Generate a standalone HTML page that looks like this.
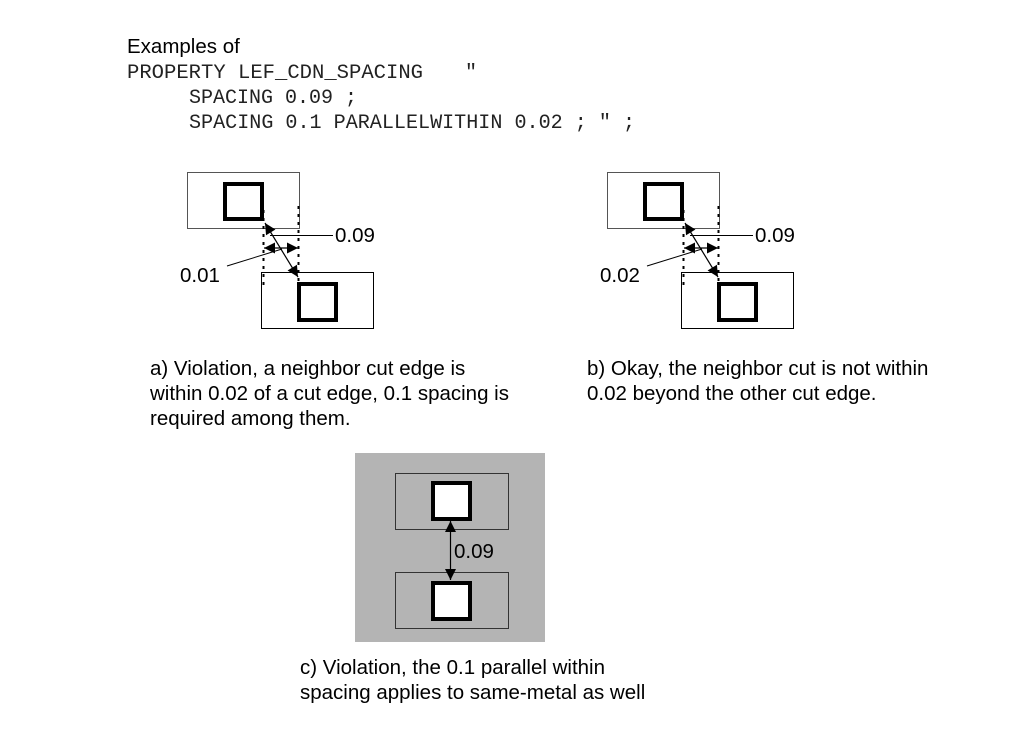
<!DOCTYPE html>
<html><head><meta charset="utf-8"><style>
html,body{margin:0;padding:0;background:#fff;}
svg{display:block;}
.s{font-family:"Liberation Sans",sans-serif;font-size:20.5px;fill:#000;}
.m{font-family:"Liberation Mono",monospace;font-size:20px;fill:#222;}
</style></head><body>
<svg width="1013" height="743" viewBox="0 0 1013 743" xmlns="http://www.w3.org/2000/svg">
<defs>
<marker id="ah" viewBox="0 0 10 10" refX="10" refY="5" markerWidth="12" markerHeight="11" markerUnits="userSpaceOnUse" orient="auto-start-reverse"><path d="M0,0L10,5L0,10z" fill="#000"/></marker>
<g id="diag">
<rect x="187.5" y="172.5" width="112" height="56" fill="none" stroke="#555" stroke-width="1"/>
<rect x="225" y="184" width="37" height="35" fill="none" stroke="#000" stroke-width="4"/>
<rect x="261.5" y="272.5" width="112" height="56" fill="none" stroke="#000" stroke-width="1"/>
<rect x="299" y="284" width="37" height="36" fill="none" stroke="#000" stroke-width="4"/>
<line x1="263.5" y1="210" x2="263.5" y2="288" stroke="#000" stroke-width="2" stroke-dasharray="3,5"/>
<line x1="298.5" y1="206" x2="298.5" y2="282" stroke="#000" stroke-width="2" stroke-dasharray="3,5"/>
<line x1="265" y1="223" x2="298" y2="277" stroke="#000" stroke-width="1.2" marker-start="url(#ah)" marker-end="url(#ah)"/>
<line x1="264" y1="248" x2="298" y2="248" stroke="#000" stroke-width="1.2" marker-start="url(#ah)" marker-end="url(#ah)"/>
<line x1="270" y1="235.5" x2="333" y2="235.5" stroke="#000" stroke-width="1"/>
<line x1="227" y1="266" x2="282" y2="249" stroke="#000" stroke-width="1"/>
</g>
</defs>
<text class="s" x="127" y="53">Examples of</text>
<text class="m" x="127" y="78" textLength="296" lengthAdjust="spacingAndGlyphs">PROPERTY LEF_CDN_SPACING</text>
<text class="m" x="465" y="78">"</text>
<text class="m" x="189" y="103">SPACING 0.09 ;</text>
<text class="m" x="189" y="128" textLength="446" lengthAdjust="spacingAndGlyphs">SPACING 0.1 PARALLELWITHIN 0.02 ; ″ ;</text>

<use href="#diag"/>
<text class="s" x="335" y="242">0.09</text>
<text class="s" x="180" y="282">0.01</text>
<use href="#diag" x="420"/>
<text class="s" x="755" y="242">0.09</text>
<text class="s" x="600" y="282">0.02</text>

<text class="s" x="150" y="375">a) Violation, a neighbor cut edge is</text>
<text class="s" x="150" y="400">within 0.02 of a cut edge, 0.1 spacing is</text>
<text class="s" x="150" y="425">required among them.</text>
<text class="s" x="587" y="375">b) Okay, the neighbor cut is not within</text>
<text class="s" x="587" y="400">0.02 beyond the other cut edge.</text>

<rect x="355" y="453" width="190" height="189" fill="#b4b4b4"/>
<rect x="395.5" y="473.5" width="113" height="56" fill="none" stroke="#333" stroke-width="1"/>
<rect x="433" y="483" width="37" height="36" fill="#fff" stroke="#000" stroke-width="4"/>
<rect x="395.5" y="572.5" width="113" height="56" fill="none" stroke="#333" stroke-width="1"/>
<rect x="433" y="583" width="37" height="36" fill="#fff" stroke="#000" stroke-width="4"/>
<line x1="450.5" y1="521" x2="450.5" y2="580" stroke="#000" stroke-width="1.2" marker-start="url(#ah)" marker-end="url(#ah)"/>
<text class="s" x="454" y="558">0.09</text>

<text class="s" x="300" y="674">c) Violation, the 0.1 parallel within</text>
<text class="s" x="300" y="699">spacing applies to same-metal as well</text>
</svg>
</body></html>
